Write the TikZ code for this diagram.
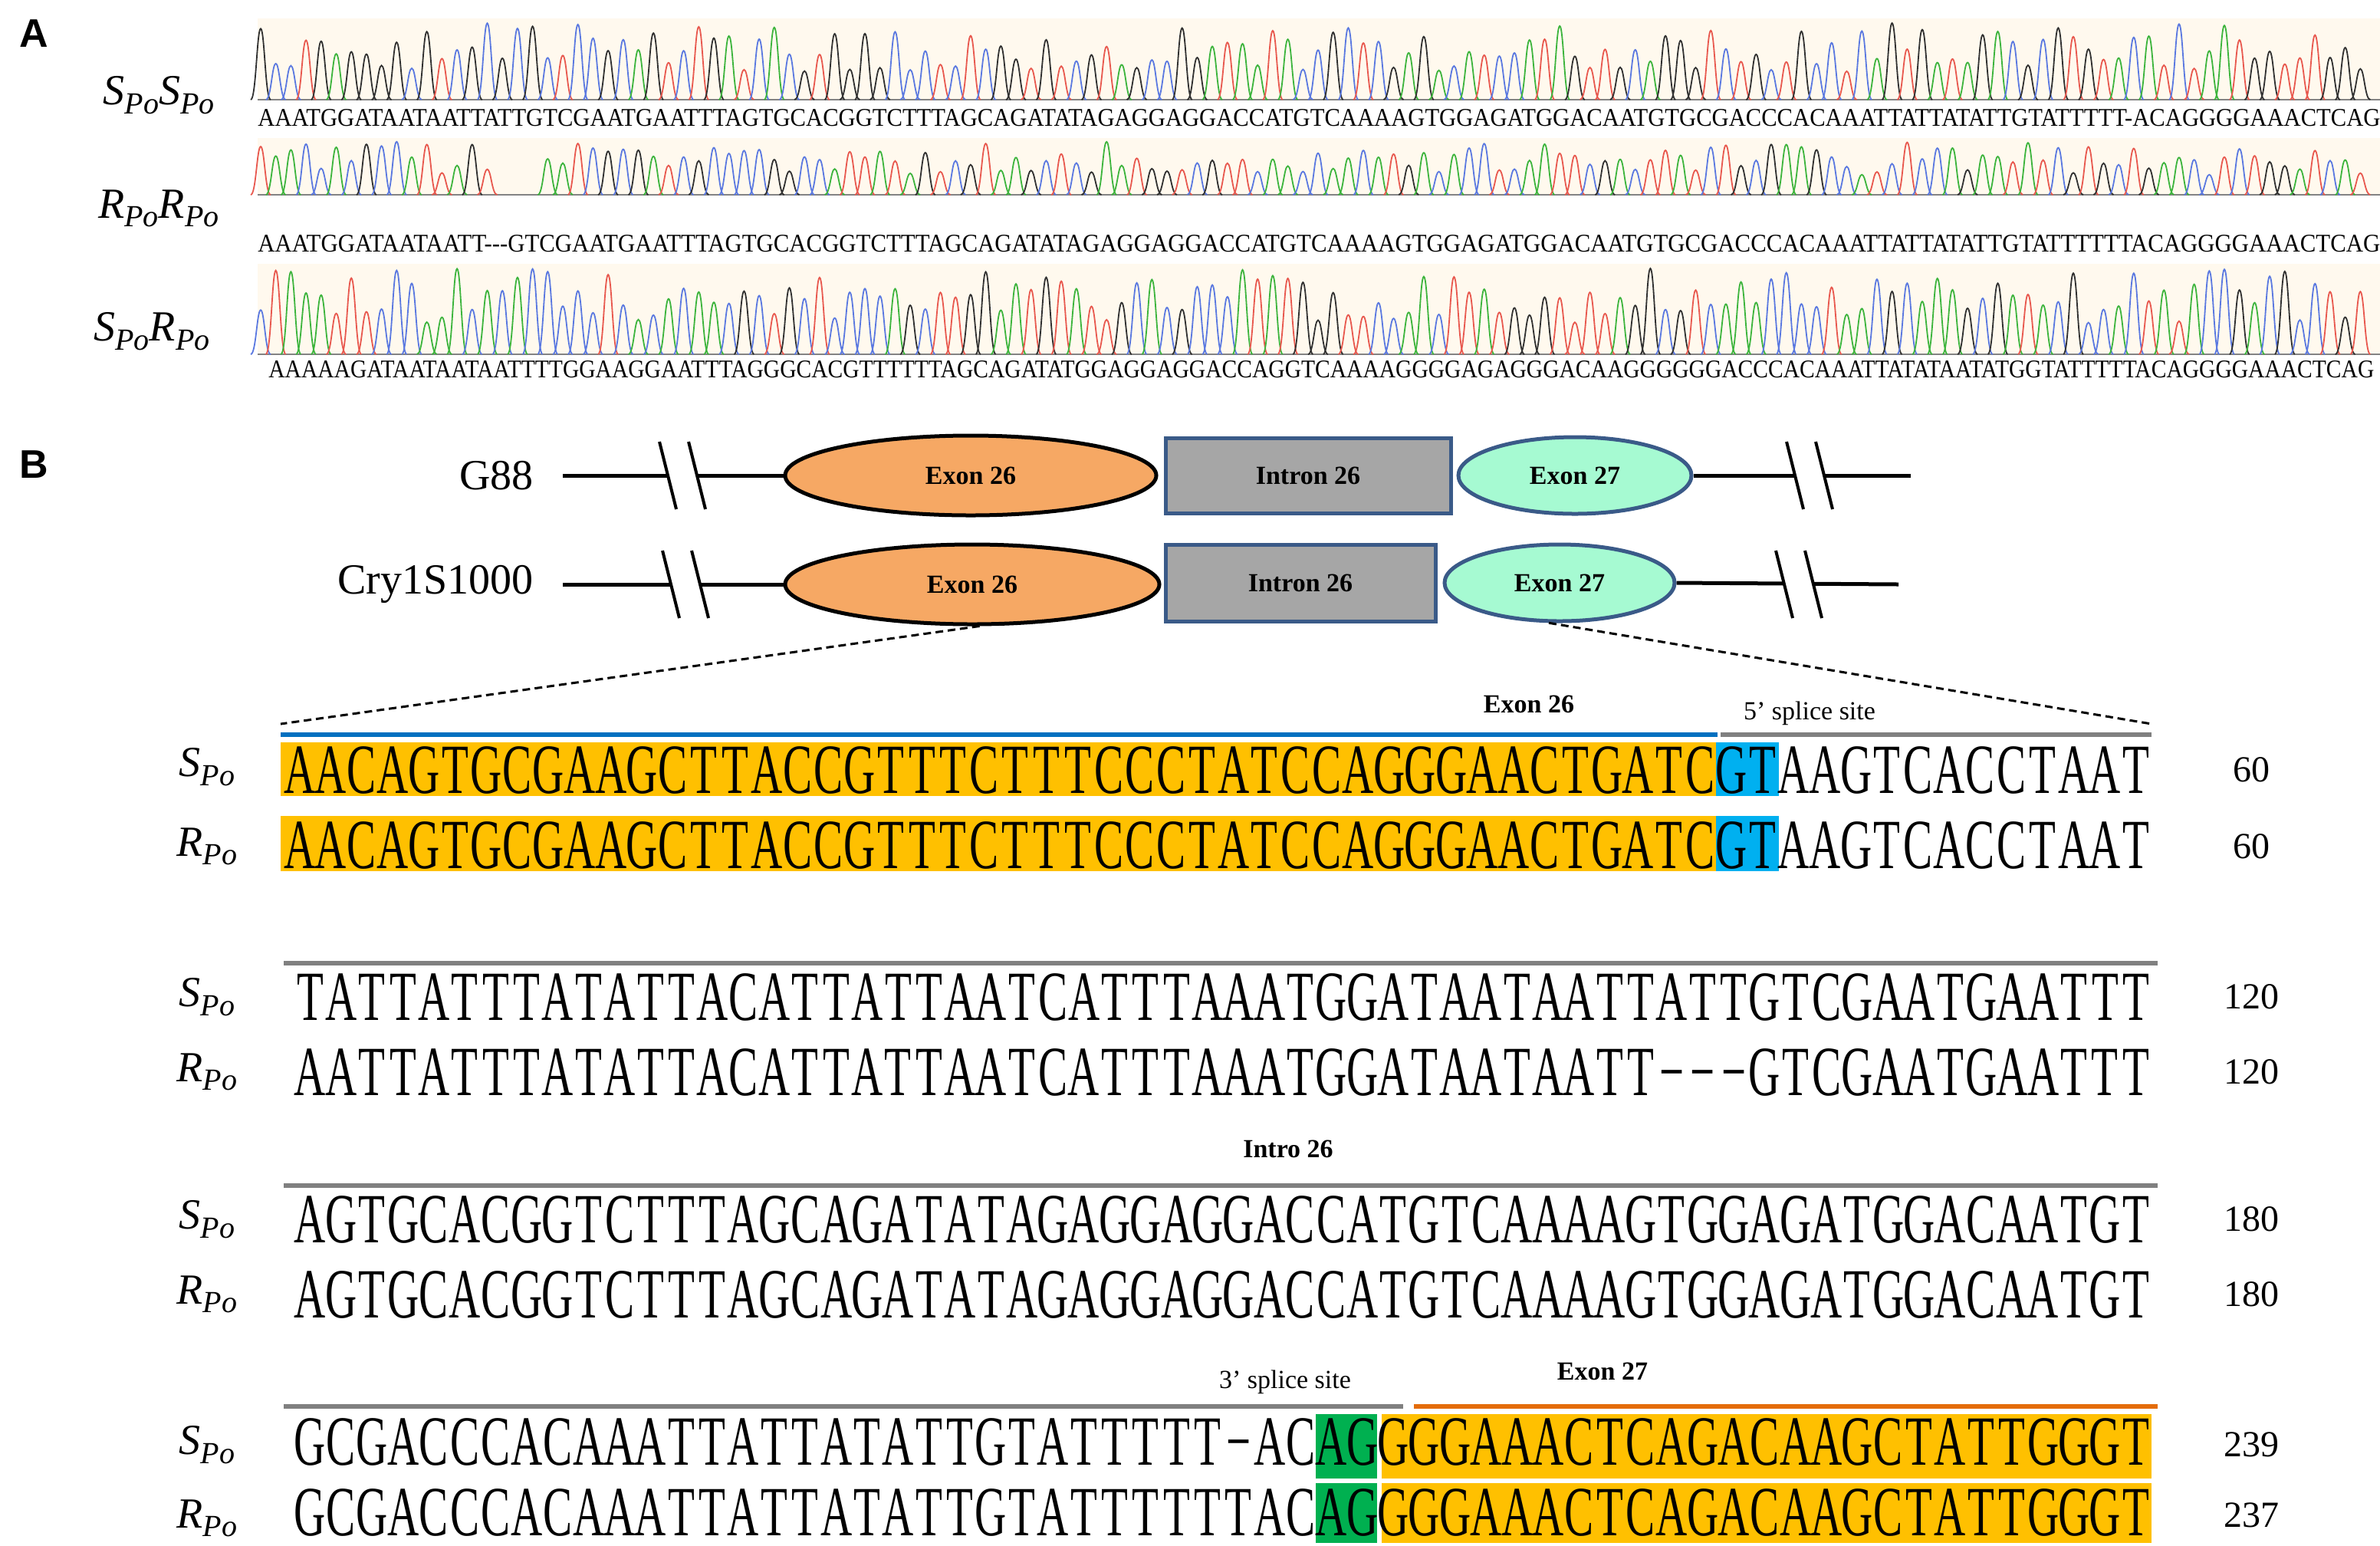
\documentclass[tikz,border=0pt]{standalone}
\usepackage{fontspec}
\usepackage{graphicx}
\usetikzlibrary{shapes.geometric}
\setmainfont{Liberation Serif}
\setsansfont{Liberation Sans}
\newfontfamily\seqfont[FakeStretch=0.62]{Liberation Serif}
\definecolor{cG}{HTML}{3CB43C}\definecolor{cR}{HTML}{E8584E}
\definecolor{cK}{HTML}{303030}\definecolor{cB}{HTML}{5A78E0}
\definecolor{cream}{HTML}{FFF9EE}
\definecolor{exo}{HTML}{F6A864}\definecolor{exg}{HTML}{A6FAD2}
\definecolor{intr}{HTML}{A6A6A6}\definecolor{dblue}{HTML}{3A5A88}
\definecolor{hlor}{HTML}{FFC000}\definecolor{hlbl}{HTML}{00B0F0}
\definecolor{hlgr}{HTML}{00B050}\definecolor{barbl}{HTML}{0070C0}
\definecolor{bargr}{HTML}{808080}\definecolor{baror}{HTML}{E46C0A}
\newcommand{\gl}[1]{{\itshape #1\raisebox{-0.45ex}{\fontsize{20}{20}\selectfont Po}}}
\newcommand{\sqs}[5]{\node[anchor=base west,inner sep=0] at (#1,#2) {\resizebox{#3pt}{#4pt}{#5}};}
\newlength\cw
\def\each#1{\ifx#1\relax\else\makebox[\cw][c]{#1}\expandafter\each\fi}
\newcommand{\sq}[4]{\node[anchor=base west,inner sep=0] at (#1,#2) {\seqfont\fontsize{46}{46}\selectfont\setlength\cw{#3pt}\each #4\relax};}
\begin{document}
\begin{tikzpicture}[x=1pt,y=-1pt,
  lab/.style={font=\fontsize{28}{28}\selectfont,anchor=east,inner sep=0},
  num/.style={font=\fontsize{24}{24}\selectfont,anchor=center,inner sep=0},
  blab/.style={font=\bfseries\fontsize{17}{17}\selectfont,inner sep=0},
  slab/.style={font=\fontsize{17}{17}\selectfont,inner sep=0},
  gene/.style={line width=2.5pt},
  exon/.style={ellipse,draw,line width=2.5pt,font=\bfseries\fontsize{17}{17}\selectfont},
  pk/.style={line width=0.9pt}]
\useasboundingbox (0,0) rectangle (1552,1007.5);
\node[font=\sffamily\bfseries\fontsize{26}{26}\selectfont] (A) at (22,22) {A};
\node[font=\sffamily\bfseries\fontsize{26}{26}\selectfont] (B) at (22,303) {B};
% chromatograms
\pgfmathsetseed{7}
\foreach \b/\tp/\gap in {65/12/0, 127/90/1, 231/172/0}{
  \fill[cream] (168,\tp) rectangle (1552,\b);
  \draw[cK!60,line width=1.2pt] (168,\b) -- (1552,\b);
  \foreach \i in {0,...,139}{
    \pgfmathsetmacro{\xx}{170+\i*9.85}
    \pgfmathsetmacro{\hh}{(\b-\tp)*(0.35+0.6*rnd)}
    \pgfmathrandominteger{\cc}{1}{4}
    \pgfmathtruncatemacro{\skip}{(\gap==1 && \xx>322 && \xx<352) ? 1 : 0}
    \ifnum\skip=0
      \ifcase\cc\or\def\col{cG}\or\def\col{cR}\or\def\col{cK}\or\def\col{cB}\fi
      \draw[pk,\col] (\xx-6.5,\b) .. controls (\xx-3,\b) and (\xx-2.5,\b-\hh) .. (\xx,\b-\hh) .. controls (\xx+2.5,\b-\hh) and (\xx+3,\b) .. (\xx+6.5,\b);
    \fi
  }
}
\node[lab] (l1) at (140,62) {\gl{S}\gl{S}};
\node[lab] (l2) at (143,136) {\gl{R}\gl{R}};
\node[lab] (l3) at (137,216) {\gl{S}\gl{R}};
\sqs{168}{82}{1384}{11}{AAATGGATAATAATTATTGTCGAATGAATTTAGTGCACGGTCTTTAGCAGATATAGAGGAGGACCATGTCAAAAGTGGAGATGGACAATGTGCGACCCACAAATTATTATATTGTATTTTT{-}ACAGGGGAAACTCAG}
\sqs{168}{164}{1384}{11}{AAATGGATAATAATT{-}{-}{-}GTCGAATGAATTTAGTGCACGGTCTTTAGCAGATATAGAGGAGGACCATGTCAAAAGTGGAGATGGACAATGTGCGACCCACAAATTATTATATTGTATTTTTTACAGGGGAAACTCAG}
\sqs{175}{246}{1373}{11}{AAAAAGATAATAATAATTTTGGAAGGAATTTAGGGCACGTTTTTTAGCAGATATGGAGGAGGACCAGGTCAAAAGGGGAGAGGGACAAGGGGGGACCCACAAATTATATAATATGGTATTTTTACAGGGGAAACTCAG}
% gene diagrams
\node[lab] (g88) at (348,310) {G88};
\node[lab] (cry) at (348,381) {Cry1S1000};
\node[exon,fill=exo,minimum width=242pt,minimum height=52pt] (e1) at (633,310) {Exon 26};
\node[draw=dblue,line width=2.5pt,fill=intr,minimum width=186pt,minimum height=49pt,font=\bfseries\fontsize{17}{17}\selectfont] (i1) at (853,310) {Intron 26};
\node[exon,draw=dblue,fill=exg,minimum width=152pt,minimum height=50pt] (f1) at (1027,310) {Exon 27};
\node[exon,fill=exo,minimum width=244pt,minimum height=52pt] (e2) at (634,381) {Exon 26};
\node[draw=dblue,line width=2.5pt,fill=intr,minimum width=176pt,minimum height=50pt,font=\bfseries\fontsize{17}{17}\selectfont] (i2) at (848,380) {Intron 26};
\node[exon,draw=dblue,fill=exg,minimum width=150pt,minimum height=50pt] (f2) at (1017,380) {Exon 27};
\coordinate (a1) at (367,310); \coordinate (b1) at (1246,310);
\coordinate (a2) at (367,381); \coordinate (b2) at (1238,381);
\draw[gene] (a1) -- (e1.west); \draw[gene] (f1.east) -- (b1);
\draw[gene] (a2) -- (e2.west); \draw[gene] (f2.east) -- (b2);
\foreach \sx/\sy in {445/310, 447/381, 1180/310, 1173/381}{
  \fill[white] (\sx-15,\sy-20) -- (\sx-4,\sy+20) -- (\sx+15,\sy+20) -- (\sx+4,\sy-20) -- cycle;
  \draw[line width=2pt] (\sx-15,\sy-22) -- (\sx-4,\sy+22) (\sx+4,\sy-22) -- (\sx+15,\sy+22);
}
\coordinate (z1) at (183,472); \coordinate (z2) at (1403,472);
\draw[line width=1.5pt,dash pattern=on 5pt off 3pt] (e2.-80) -- (z1);
\draw[line width=1.5pt,dash pattern=on 5pt off 3pt] (f2.-105) -- (z2);
% alignment
\foreach \y/\a in {500/S,552/R,650/S,699/R,795/S,844/R,942/S,990/R}{
  \node[lab,anchor=center] at (135,\y) {\gl{\a}};
}
\foreach \y/\n in {502/60,552/60,650/120,699/120,795/180,844/180,942/239,988/237}{
  \node[num] at (1468,\y) {\n};
}
% row 1 highlights
\fill[hlor] (183,484) rectangle (1119,519); \fill[hlbl] (1119,484) rectangle (1160,519);
\fill[hlor] (183,532) rectangle (1119,568); \fill[hlbl] (1119,532) rectangle (1160,568);
\draw[barbl,line width=3pt] (183,479) -- (1120,479);
\draw[bargr,line width=3pt] (1122,479) -- (1403,479);
\node[blab] (x26) at (997,459) {Exon 26};
\node[slab] (s5) at (1180,465) {5’ splice site};
\sq{185}{517}{20.3}{AACAGTGCGAAGCTTACCGTTTCTTTCCCTATCCAGGGAACTGATCGTAAGTCACCTAAT}
\sq{185}{566}{20.3}{AACAGTGCGAAGCTTACCGTTTCTTTCCCTATCCAGGGAACTGATCGTAAGTCACCTAAT}
% row 2
\draw[bargr,line width=3pt] (185,628) -- (1407,628);
\sq{192}{665}{20.18}{TATTATTTATATTACATTATTAATCATTTAAATGGATAATAATTATTGTCGAATGAATTT}
\sq{192}{714}{20.18}{AATTATTTATATTACATTATTAATCATTTAAATGGATAATAATT−−−GTCGAATGAATTT}
% row 3
\node[blab] (i26) at (840,749) {Intro 26};
\draw[bargr,line width=3pt] (185,773) -- (1407,773);
\sq{192}{810}{20.18}{AGTGCACGGTCTTTAGCAGATATAGAGGAGGACCATGTCAAAAGTGGAGATGGACAATGT}
\sq{192}{859}{20.18}{AGTGCACGGTCTTTAGCAGATATAGAGGAGGACCATGTCAAAAGTGGAGATGGACAATGT}
% row 4
\node[slab] (s3) at (838,901) {3’ splice site};
\node[blab] (x27) at (1045,894) {Exon 27};
\draw[bargr,line width=3pt] (185,917) -- (915,917);
\draw[baror,line width=3pt] (922,917) -- (1407,917);
\fill[hlgr] (858,922) rectangle (898,964); \fill[hlor] (901,922) rectangle (1403,964);
\fill[hlgr] (858,967) rectangle (898,1006); \fill[hlor] (901,967) rectangle (1403,1006);
\sq{192}{955}{20.18}{GCGACCCACAAATTATTATATTGTATTTTT−ACAGGGGAAACTCAGACAAGCTATTGGGT}
\sq{192}{1001}{20.18}{GCGACCCACAAATTATTATATTGTATTTTTTACAGGGGAAACTCAGACAAGCTATTGGGT}
\end{tikzpicture}
\end{document}
